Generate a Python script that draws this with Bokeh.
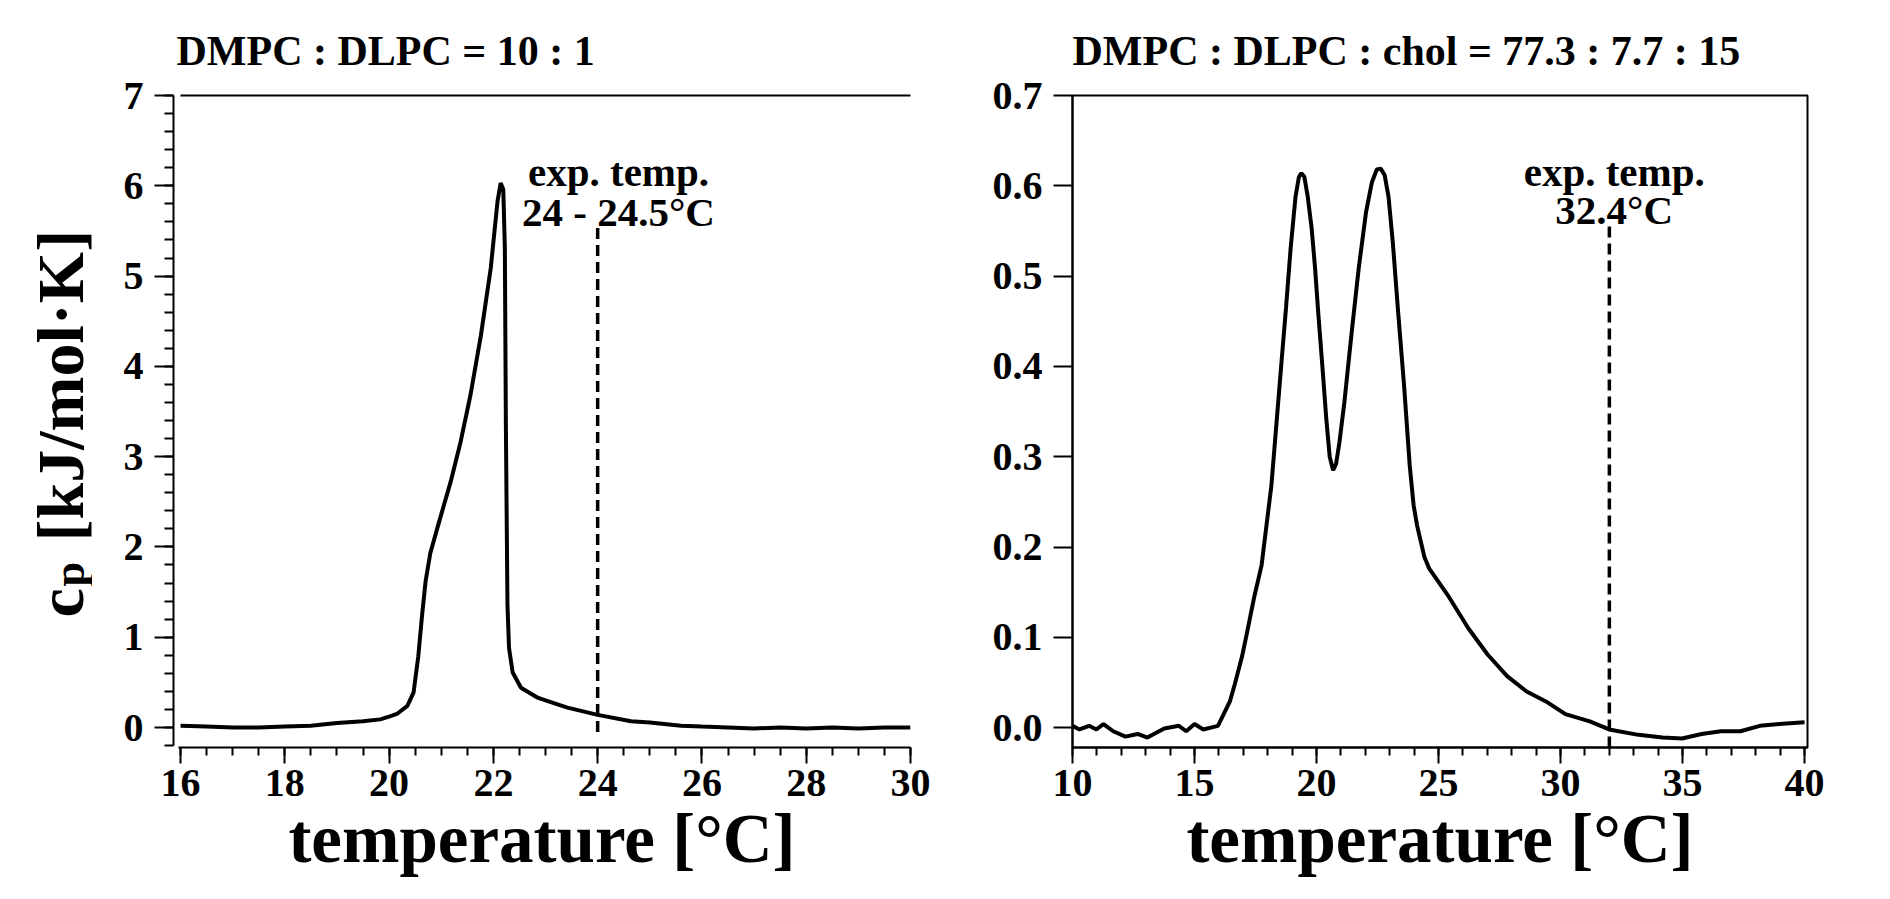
from bokeh.plotting import figure
from bokeh.layouts import row
from bokeh.models import (Range1d, SingleIntervalTicker, FixedTicker, LinearAxis,
                          PrintfTickFormatter)
from bokeh.core.properties import value
from bokeh.embed import file_html
from bokeh.resources import INLINE
import math

# ---------------- data ----------------
left_title = "DMPC : DLPC = 10 : 1"
right_title = "DMPC : DLPC : chol = 77.3 : 7.7 : 15"
x_label = "temperature [°C]"
y_label_main = "c"
y_label_sub = "p"
y_label_unit = "[kJ/mol·K]"

left_temp = [16.0, 16.5, 17.0, 17.5, 18.0, 18.5, 19.0, 19.5, 19.83, 20.0, 20.15, 20.35,
             20.47, 20.56, 20.63, 20.70, 20.79, 20.96, 21.18, 21.37, 21.56, 21.76, 21.95,
             22.08, 22.14, 22.19, 22.22, 22.24, 22.27, 22.30, 22.37, 22.53, 22.85, 23.0,
             23.42, 24.0, 24.64, 25.0, 25.6, 26.0, 26.5, 27.0, 27.5, 28.0, 28.5, 29.0,
             29.5, 30.0]
left_cp = [0.02, 0.01, 0.0, 0.0, 0.01, 0.02, 0.05, 0.07, 0.09, 0.12, 0.15, 0.24,
           0.39, 0.79, 1.23, 1.62, 1.93, 2.28, 2.72, 3.16, 3.68, 4.34, 5.09,
           5.83, 6.03, 5.96, 5.31, 3.33, 1.36, 0.88, 0.61, 0.44, 0.33, 0.30,
           0.22, 0.14, 0.07, 0.055, 0.02, 0.01, 0.0, -0.01, 0.0, -0.01, 0.0, -0.01,
           0.0, 0.0]

right_temp = [10.0, 10.28, 10.68, 10.98, 11.27, 11.67, 12.17, 12.67, 13.07, 13.76, 14.36,
              14.66, 15.0, 15.36, 15.96, 16.25, 16.45, 16.65, 16.95, 17.15, 17.45, 17.75,
              17.95, 18.15, 18.35, 18.55, 18.75, 18.94, 19.14, 19.28, 19.38, 19.50, 19.64,
              19.80, 19.94, 20.08, 20.24, 20.40, 20.54, 20.68, 20.80, 20.94, 21.14, 21.43,
              21.73, 22.03, 22.27, 22.47, 22.63, 22.79, 22.95, 23.13, 23.33, 23.59, 23.82,
              23.98, 24.12, 24.42, 24.62, 25.42, 26.22, 27.01, 27.81, 28.61, 29.40, 30.20,
              31.20, 31.99, 33.19, 34.18, 34.98, 35.78, 36.57, 37.37, 38.17, 38.96, 40.0]
right_cp = [0.002, -0.002, 0.002, -0.002, 0.004, -0.004, -0.010, -0.007, -0.011, -0.001, 0.002,
            -0.004, 0.004, -0.002, 0.002, 0.018, 0.029, 0.048, 0.079, 0.105, 0.145, 0.180,
            0.224, 0.268, 0.334, 0.400, 0.465, 0.531, 0.588, 0.610, 0.614, 0.610, 0.588,
            0.553, 0.509, 0.456, 0.400, 0.342, 0.300, 0.285, 0.292, 0.316, 0.360, 0.435,
            0.509, 0.571, 0.604, 0.618, 0.619, 0.612, 0.588, 0.536, 0.465, 0.378, 0.290,
            0.246, 0.224, 0.189, 0.176, 0.145, 0.110, 0.081, 0.057, 0.040, 0.029, 0.015,
            0.007, -0.002, -0.008, -0.011, -0.012, -0.007, -0.004, -0.004, 0.002, 0.004, 0.006]

left_exp_x = [24.0]
left_exp_y0 = [-0.05]
left_exp_y1 = [5.57]
left_note = ["exp. temp.", "24 - 24.5°C"]
left_note_x = [24.4, 24.4]
left_note_y = [6.15, 5.71]

right_exp_x = [32.0]
right_exp_y0 = [-0.022]
right_exp_y1 = [0.56]
right_note = ["exp. temp.", "32.4°C"]
right_note_x = [32.2, 32.2]
right_note_y = [0.615, 0.573]

FONT = "Liberation Serif"
H = 883
TOP = 95
BOTTOM = H - 747


def style_axis(ax, tick_out, minor_out, size="40px"):
    ax.major_label_text_font = FONT
    ax.major_label_text_font_size = size
    ax.major_label_text_font_style = "bold"
    ax.major_label_text_color = "black"
    ax.axis_line_width = 2
    ax.axis_line_color = "black"
    ax.major_tick_line_width = 2
    ax.minor_tick_line_width = 2
    ax.major_tick_line_color = "black"
    ax.minor_tick_line_color = "black"
    ax.major_tick_in = 0
    ax.minor_tick_in = 0
    ax.major_tick_out = tick_out
    ax.minor_tick_out = minor_out
    ax.axis_label_text_font = FONT
    ax.axis_label_text_font_size = "69px"
    ax.axis_label_text_font_style = "bold"
    ax.axis_label_text_color = "black"


def style_title(p, offset):
    p.title.text_font = FONT
    p.title.text_font_size = "42px"
    p.title.text_font_style = "bold"
    p.title.text_color = "black"
    p.title.text_line_height = 1.05
    p.title.align = "left"
    p.title.offset = offset
    p.title.standoff = 43


# ---------------- y label panel (frame aligned with the plots in the row) ----------------
W0 = 92
# data units of this panel: x = pixels from left, y = -(pixels from top)
f0 = figure(width=W0, height=H, x_range=Range1d(0, W0), y_range=Range1d(-(H - BOTTOM), -TOP),
            output_backend="svg", toolbar_location=None,
            x_axis_location=None, y_axis_location=None,
            min_border_left=0, min_border_right=0, min_border_top=TOP, min_border_bottom=BOTTOM)
f0.outline_line_color = None
f0.grid.visible = False
f0.text(x=[60], y=[-617], text=[y_label_main], angle=math.pi / 2, text_font=value(FONT),
        text_font_size="66px", text_font_style="bold", text_align="left",
        text_baseline="alphabetic", text_color="black")
f0.text(x=[69], y=[-586], text=[y_label_sub], angle=math.pi / 2, text_font=value(FONT),
        text_font_size="44px", text_font_style="bold", text_align="left",
        text_baseline="alphabetic", text_color="black")
f0.text(x=[60], y=[-541], text=[y_label_unit], angle=math.pi / 2, text_font=value(FONT),
        text_font_size="66px", text_font_style="bold", text_align="left",
        text_baseline="alphabetic", text_color="black")

# ---------------- left panel ----------------
f1 = figure(width=848, height=H, x_range=Range1d(15.865, 30.0), y_range=Range1d(-0.2215, 7.0),
            output_backend="svg", toolbar_location=None, title=left_title,
            min_border_left=81, min_border_right=30, min_border_top=TOP, min_border_bottom=BOTTOM)
f1.outline_line_color = None
f1.grid.visible = False
f1.xaxis.ticker = SingleIntervalTicker(interval=2, num_minor_ticks=4)
f1.yaxis.ticker = SingleIntervalTicker(interval=1, num_minor_ticks=5)
for ax in f1.xaxis:
    style_axis(ax, tick_out=16, minor_out=8)
    ax.bounds = (15.97, 30.0)
    ax.axis_label = x_label
    ax.major_label_standoff = 6
    ax.axis_label_standoff = 2
for ax in f1.yaxis:
    style_axis(ax, tick_out=19, minor_out=9)
    ax.bounds = (-0.2, 7.0)
    ax.major_label_standoff = 11
top1 = LinearAxis(ticker=FixedTicker(ticks=[]), major_label_text_font_size="0px",
                  major_tick_out=0, minor_tick_out=0, major_label_standoff=0,
                  axis_line_width=2, axis_line_color="black", bounds=(15.99, 30.0))
f1.add_layout(top1, "above")
style_title(f1, 3)
f1.line(left_temp, left_cp, line_width=4, line_color="black")
f1.segment(x0=left_exp_x, y0=left_exp_y0, x1=left_exp_x, y1=left_exp_y1,
           line_width=3.5, line_color="black", line_dash="11 6")
f1.text(x=left_note_x, y=left_note_y, text=left_note, text_font=value(FONT),
        text_font_size="41px", text_font_style="bold", text_align="center",
        text_baseline="alphabetic", text_color="black")

# ---------------- right panel ----------------
f2 = figure(width=897, height=H, x_range=Range1d(10, 40.12), y_range=Range1d(-0.022, 0.70001),
            output_backend="svg", toolbar_location=None, title=right_title,
            min_border_left=132, min_border_right=30, min_border_top=TOP, min_border_bottom=BOTTOM)
f2.outline_line_color = "black"
f2.outline_line_width = 2
f2.outline_line_alpha = 1.0
f2.grid.visible = False
f2.xaxis.ticker = SingleIntervalTicker(interval=5, num_minor_ticks=5)
f2.yaxis.ticker = SingleIntervalTicker(interval=0.1, num_minor_ticks=0)
f2.yaxis.formatter = PrintfTickFormatter(format="%.1f")
for ax in f2.xaxis:
    style_axis(ax, tick_out=16, minor_out=8)
    ax.axis_label = x_label
    ax.major_label_standoff = 6
    ax.axis_label_standoff = 2
for ax in f2.yaxis:
    style_axis(ax, tick_out=19, minor_out=0)
    ax.major_label_standoff = 11
style_title(f2, 0)
f2.line(right_temp, right_cp, line_width=4, line_color="black")
f2.segment(x0=right_exp_x, y0=right_exp_y0, x1=right_exp_x, y1=right_exp_y1,
           line_width=3.5, line_color="black", line_dash="11 6")
f2.text(x=right_note_x, y=right_note_y, text=right_note, text_font=value(FONT),
        text_font_size="41px", text_font_style="bold", text_align="center",
        text_baseline="alphabetic", text_color="black")

layout = row(f0, f1, f2)
open("out.html", "w").write(file_html(layout, INLINE))
